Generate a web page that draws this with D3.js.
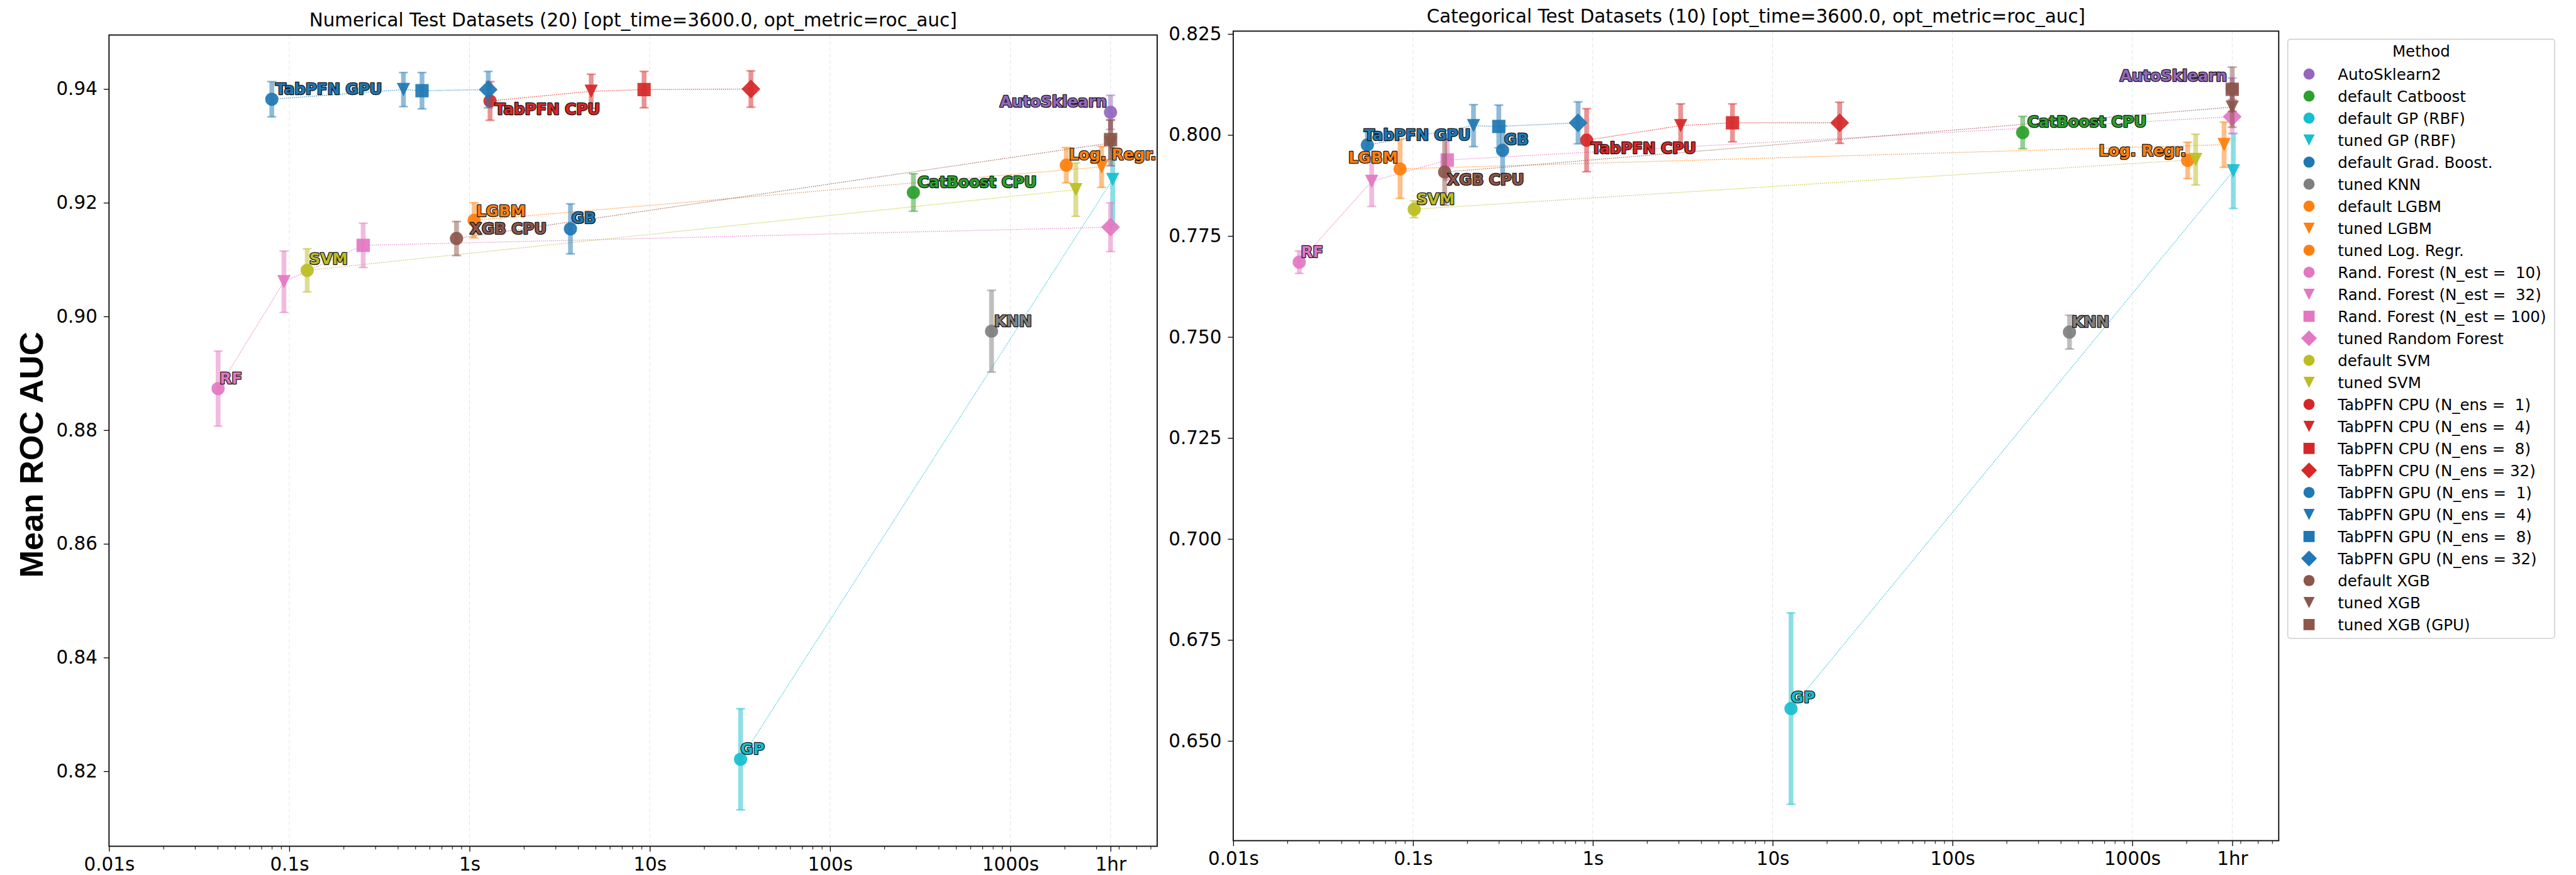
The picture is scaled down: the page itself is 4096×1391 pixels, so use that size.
<!DOCTYPE html>
<html>
<head>
<meta charset="utf-8">
<script src="https://cdn.jsdelivr.net/npm/d3@7"></script>
<style>
  html, body { margin: 0; padding: 0; background: #fff; }
  svg { display: block; }
  text { font-family: "DejaVu Sans", sans-serif; }
</style>
</head>
<body>
<svg id="chart" width="4096" height="1391"></svg>
<script>
// ---- data ----
const methods = [
  "AutoSklearn2", "default Catboost", "default GP (RBF)", "tuned GP (RBF)",
  "default Grad. Boost.", "tuned KNN", "default LGBM", "tuned LGBM", "tuned Log. Regr.",
  "Rand. Forest (N_est =  10)", "Rand. Forest (N_est =  32)", "Rand. Forest (N_est = 100)",
  "tuned Random Forest", "default SVM", "tuned SVM",
  "TabPFN CPU (N_ens =  1)", "TabPFN CPU (N_ens =  4)", "TabPFN CPU (N_ens =  8)", "TabPFN CPU (N_ens = 32)",
  "TabPFN GPU (N_ens =  1)", "TabPFN GPU (N_ens =  4)", "TabPFN GPU (N_ens =  8)", "TabPFN GPU (N_ens = 32)",
  "default XGB", "tuned XGB", "tuned XGB (GPU)"
];

// numerical datasets: time (s), mean ROC AUC, error half-width
const numTime  = [3600, 290, 31.9, 3700, 3.63, 787, 1.06, 3210, 2045,
                  0.0403, 0.0934, 0.257, 3600, 0.1257, 2310,
                  1.3, 4.73, 9.3, 36.4, 0.080, 0.43, 0.545, 1.27,
                  0.847, 3600, 3600];
const numScore = [0.9359, 0.9218, 0.8221, 0.9241, 0.9154, 0.8974, 0.9169, 0.9263, 0.9266,
                  0.8873, 0.9061, 0.9125, 0.9157, 0.9081, 0.9223,
                  0.9379, 0.9396, 0.9399, 0.9400, 0.9382, 0.9399, 0.9397, 0.9399,
                  0.9137, 0.9305, 0.9311];
const numErr   = [0.0030, 0.0033, 0.0089, 0.0080, 0.0044, 0.0072, 0.0031, 0.0036, 0.0031,
                  0.0066, 0.0054, 0.0039, 0.0043, 0.0038, 0.0047,
                  0.0034, 0.0030, 0.0032, 0.0032, 0.0031, 0.0030, 0.0032, 0.0032,
                  0.0030, 0.0040, 0.0035];

// categorical datasets
const catTime  = [3600, 246, 12.66, 3650, 0.315, 448, 0.0847, 3245, 2035,
                  0.0233, 0.0589, 0.155, 3600, 0.1016, 2254,
                  0.924, 3.08, 5.98, 23.6, 0.0557, 0.217, 0.30, 0.828,
                  0.150, 3600, 3600];
const catScore = [0.8114, 0.8006, 0.6580, 0.7911, 0.7962, 0.7512, 0.7916, 0.7976, 0.7937,
                  0.7685, 0.7885, 0.7938, 0.8045, 0.7816, 0.7939,
                  0.7987, 0.8023, 0.8030, 0.8030, 0.7975, 0.8023, 0.8021, 0.8030,
                  0.7908, 0.8069, 0.8113];
const catErr   = [0.0027, 0.0040, 0.0237, 0.0093, 0.0060, 0.0042, 0.0073, 0.0056, 0.0045,
                  0.0028, 0.0062, 0.0050, 0.0042, 0.0021, 0.0063,
                  0.0078, 0.0054, 0.0047, 0.0051, 0.0033, 0.0052, 0.0053, 0.0052,
                  0.0082, 0.0050, 0.0055];

// methods joined by a dotted line (indices into methods)
const lineGroups = [[2, 3], [6, 7], [9, 10, 11, 12], [13, 14], [15, 16, 17, 18], [19, 20, 21, 22], [23, 24, 25]];

const labelNames  = ["AutoSklearn", "CatBoost CPU", "GP", "GB", "KNN", "LGBM", "Log. Regr.", "RF", "SVM", "TabPFN CPU", "TabPFN GPU", "XGB CPU"];
const labelMethod = [0, 1, 2, 4, 5, 6, 8, 9, 13, 15, 19, 23];

const xTickValues = [0.01, 0.1, 1, 10, 100, 1000, 3600];
const xTickLabels = ["0.01s", "0.1s", "1s", "10s", "100s", "1000s", "1hr"];
const numYTicks = [0.82, 0.84, 0.86, 0.88, 0.90, 0.92, 0.94];
const catYTicks = [0.650, 0.675, 0.700, 0.725, 0.750, 0.775, 0.800, 0.825];
const panelTitles = [
  "Numerical Test Datasets (20) [opt_time=3600.0, opt_metric=roc_auc]",
  "Categorical Test Datasets (10) [opt_time=3600.0, opt_metric=roc_auc]"
];

// ---- styles / layout (reference pixels, scaled by S) ----
const S = 4096 / 4844;
const px = v => v * S;

const tab = {
  blue: "#1f77b4", orange: "#ff7f0e", green: "#2ca02c", red: "#d62728", purple: "#9467bd",
  brown: "#8c564b", pink: "#e377c2", gray: "#7f7f7f", olive: "#bcbd22", cyan: "#17becf"
};
const methodColor = [
  tab.purple, tab.green, tab.cyan, tab.cyan, tab.blue, tab.gray, tab.orange, tab.orange, tab.orange,
  tab.pink, tab.pink, tab.pink, tab.pink, tab.olive, tab.olive,
  tab.red, tab.red, tab.red, tab.red, tab.blue, tab.blue, tab.blue, tab.blue,
  tab.brown, tab.brown, tab.brown
];
const methodShape = [
  "o", "o", "o", "v", "o", "o", "o", "v", "o",
  "o", "v", "s", "D", "o", "v",
  "o", "v", "s", "D", "o", "v", "s", "D",
  "o", "v", "s"
];

// [anchor, dx, dy] per label, reference pixels
const numLabelOffsets = [
  ["end", -7, -10], ["start", 8, -10], ["start", 0, -10], ["start", 2, -11], ["start", 5, -9],
  ["start", 4, -8], ["start", 5, -10], ["start", 3, -9], ["start", 4, -11],
  ["start", 9, 25], ["start", 7, -9], ["start", 25, -9]
];
const catLabelOffsets = [
  ["end", -10, -15], ["start", 9, -10], ["start", 0, -11], ["start", 3, -10], ["start", 4, -9],
  ["end", -4, -11], ["end", -3, -8], ["start", 3, -9], ["start", 4, -9],
  ["start", 8, 25], ["start", -6, -9], ["start", 5, 24]
];

function markerPath(shape, ms) {
  const h = ms / 2;
  if (shape === "v") return `M0,${h}L${-h},${-h}L${h},${-h}Z`;
  if (shape === "s") return `M${-h},${-h}h${ms}v${ms}h${-ms}Z`;
  if (shape === "D") {
    const d = h * Math.SQRT2;
    return `M0,${-d}L${d},0L0,${d}L${-d},0Z`;
  }
  return `M${h},0A${h},${h} 0 1,1 ${-h},0A${h},${h} 0 1,1 ${h},0Z`;
}

const svg = d3.select("#chart");
svg.append("rect").attr("width", 4096).attr("height", 1391).attr("fill", "#fff");

const panels = [
  { title: panelTitles[0], time: numTime, score: numScore, err: numErr, yTicks: numYTicks, fmt: ".2f",
    yDomain: [0.8068, 0.9495], box: [205, 65.8, 2176, 1591], offsets: numLabelOffsets },
  { title: panelTitles[1], time: catTime, score: catScore, err: catErr, yTicks: catYTicks, fmt: ".3f",
    yDomain: [0.6253, 0.8257], box: [2319, 58.5, 4285, 1580.5], offsets: catLabelOffsets }
];

const minorTicks = [];
for (let k = -2; k <= 3; k++) {
  for (let m = 2; m <= 9; m++) {
    const v = m * Math.pow(10, k);
    if (v < 6500) minorTicks.push(v);
  }
}

const tickFont = px(34.8);
const labelFont = px(29);

panels.forEach(p => {
  const [bx0, by0, bx1, by1] = p.box.map(px);
  const x = d3.scaleLog().domain([0.01, 6530]).range([bx0, bx1]);
  const y = d3.scaleLinear().domain(p.yDomain).range([by1, by0]);
  const g = svg.append("g");

  // vertical grid
  g.append("g").selectAll("line").data(xTickValues).join("line")
    .attr("x1", d => x(d)).attr("x2", d => x(d))
    .attr("y1", by0).attr("y2", by1)
    .attr("stroke", "#c8ccd8").attr("stroke-opacity", 0.55)
    .attr("stroke-width", 1).attr("stroke-dasharray", "6,4");

  // dotted connections
  const line = d3.line().x(i => x(p.time[i])).y(i => y(p.score[i]));
  g.append("g").selectAll("path").data(lineGroups).join("path")
    .attr("d", grp => line(grp))
    .attr("fill", "none")
    .attr("stroke", grp => methodColor[grp[0]])
    .attr("stroke-opacity", 0.75)
    .attr("stroke-width", 1.4)
    .attr("stroke-dasharray", "1.6,1.6");

  // error bars + markers, method by method
  const capW = px(8.5);
  methods.forEach((m, i) => {
    const cx = x(p.time[i]);
    const yHi = y(p.score[i] + p.err[i]);
    const yLo = y(p.score[i] - p.err[i]);
    const eb = g.append("g").attr("stroke", methodColor[i]).attr("stroke-opacity", 0.5);
    eb.append("line").attr("x1", cx).attr("x2", cx).attr("y1", yHi).attr("y2", yLo)
      .attr("stroke-width", px(9));
    [yHi, yLo].forEach(yy => {
      eb.append("line").attr("x1", cx - capW).attr("x2", cx + capW).attr("y1", yy).attr("y2", yy)
        .attr("stroke-width", px(3));
    });
    g.append("path")
      .attr("d", markerPath(methodShape[i], px(25)))
      .attr("transform", `translate(${cx},${y(p.score[i])})`)
      .attr("fill", methodColor[i])
      .attr("fill-opacity", 0.92);
  });

  // annotations
  labelNames.forEach((name, k) => {
    const i = labelMethod[k];
    const [anchor, dx, dy] = p.offsets[k];
    g.append("text")
      .attr("x", x(p.time[i]) + px(dx))
      .attr("y", y(p.score[i]) + px(dy))
      .attr("text-anchor", anchor)
      .attr("font-size", labelFont)
      .attr("font-weight", "bold")
      .attr("fill", methodColor[i])
      .attr("stroke", "#111")
      .attr("stroke-width", 2.6)
      .attr("stroke-linejoin", "round")
      .attr("paint-order", "stroke")
      .text(name);
  });

  // axes
  const xAxis = g.append("g").attr("transform", `translate(0,${by1})`)
    .call(d3.axisBottom(x).tickValues(xTickValues).tickFormat((d, i) => xTickLabels[i])
      .tickSize(px(10)).tickPadding(9.5).tickSizeOuter(0));
  g.append("g").attr("transform", `translate(0,${by1})`)
    .call(d3.axisBottom(x).tickValues(minorTicks).tickFormat("").tickSize(px(6)).tickSizeOuter(0))
    .call(a => a.select(".domain").remove())
    .call(a => a.selectAll("line").attr("stroke-width", 1));
  const yAxis = g.append("g").attr("transform", `translate(${bx0},0)`)
    .call(d3.axisLeft(y).tickValues(p.yTicks).tickFormat(d3.format(p.fmt))
      .tickSize(px(10)).tickPadding(10).tickSizeOuter(0));
  [xAxis, yAxis].forEach(a => {
    a.select(".domain").remove();
    a.selectAll("line").attr("stroke-width", 1.3).attr("stroke", "#000");
    a.selectAll("text").attr("font-size", tickFont).attr("fill", "#000")
      .attr("font-family", "'DejaVu Sans', sans-serif");
  });

  // frame
  g.append("rect")
    .attr("x", bx0).attr("y", by0).attr("width", bx1 - bx0).attr("height", by1 - by0)
    .attr("fill", "none").attr("stroke", "#111").attr("stroke-width", 1.9);

  // title
  g.append("text")
    .attr("x", (bx0 + bx1) / 2).attr("y", by0 - px(16))
    .attr("text-anchor", "middle").attr("font-size", tickFont).attr("fill", "#000")
    .text(p.title);
});

// y label
svg.append("text")
  .attr("transform", `translate(${px(80)},${px(855)}) rotate(-90)`)
  .attr("text-anchor", "middle")
  .style("font-family", "'Liberation Sans', Arial, sans-serif")
  .attr("font-weight", "bold")
  .attr("font-size", px(62))
  .attr("fill", "#000")
  .text("Mean ROC AUC");

// legend
const lg = svg.append("g");
const lx0 = px(4302), ly0 = px(73.8), lx1 = px(4804), ly1 = px(1200);
lg.append("rect")
  .attr("x", lx0).attr("y", ly0).attr("width", lx1 - lx0).attr("height", ly1 - ly0)
  .attr("rx", px(5)).attr("fill", "#fff").attr("fill-opacity", 0.8)
  .attr("stroke", "#d0d0d0").attr("stroke-width", 1.6);
lg.append("text")
  .attr("x", (lx0 + lx1) / 2).attr("y", px(107))
  .attr("text-anchor", "middle").attr("font-size", labelFont).attr("fill", "#000")
  .text("Method");
const rowH = px(41.4);
const rows = lg.selectAll("g.row").data(methods).join("g").attr("class", "row")
  .attr("transform", (d, i) => `translate(0,${px(150) + i * rowH})`);
rows.append("path")
  .attr("d", (d, i) => markerPath(methodShape[i], px(21)))
  .attr("transform", `translate(${px(4342)},${-px(10.8)})`)
  .attr("fill", (d, i) => methodColor[i]);
rows.append("text")
  .attr("x", px(4396)).attr("y", 0)
  .attr("font-size", labelFont).attr("fill", "#000")
  .style("white-space", "pre")
  .text(d => d);
</script>
</body>
</html>
